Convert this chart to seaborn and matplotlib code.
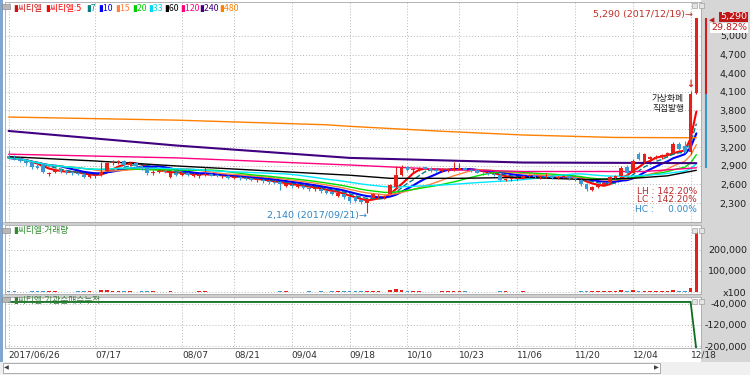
import matplotlib
matplotlib.use('Agg')
import matplotlib.pyplot as plt
import numpy as np
import pandas as pd
import seaborn as sns
from matplotlib.patches import Rectangle

# daily candles, 2017/06/26 .. 2017/12/19 (120 trading days)
opens = [3060, 3030, 3010, 2980, 2950, 2900, 2930, 2770, 2800, 2840,
         2810, 2800, 2790, 2760, 2720, 2740, 2760, 2820, 2940, 2950,
         2980, 2920, 2950, 2900, 2860, 2780, 2800, 2810, 2720, 2790,
         2760, 2780, 2740, 2730, 2760, 2770, 2750, 2730, 2740, 2710,
         2720, 2700, 2700, 2670, 2680, 2650, 2640, 2640, 2580, 2590,
         2560, 2580, 2550, 2520, 2530, 2500, 2480, 2410, 2440, 2390,
         2400, 2350, 2300, 2380, 2390, 2390, 2450, 2560, 2750, 2890,
         2840, 2850, 2880, 2870, 2840, 2820, 2830, 2830, 2840, 2860,
         2830, 2830, 2790, 2780, 2770, 2760, 2670, 2690, 2690, 2710,
         2740, 2750, 2720, 2730, 2740, 2710, 2720, 2730, 2700, 2680,
         2610, 2510, 2560, 2590, 2640, 2700, 2740, 2890, 2790, 3100,
         2970, 3020, 3030, 3040, 3060, 3110, 3260, 3220, 3120, 4080]
highs = [3150, 3070, 3040, 3000, 2960, 2930, 2940, 2810, 2850, 2860,
         2830, 2820, 2810, 2780, 2760, 2770, 2970, 2960, 2990, 2990,
         3000, 2970, 2960, 2910, 2870, 2830, 2830, 2830, 2800, 2810,
         2790, 2800, 2780, 2780, 2880, 2790, 2770, 2760, 2750, 2740,
         2730, 2720, 2710, 2700, 2690, 2670, 2660, 2650, 2620, 2610,
         2600, 2590, 2570, 2560, 2540, 2510, 2490, 2470, 2450, 2400,
         2420, 2370, 2360, 2470, 2440, 2430, 2600, 2900, 2920, 2900,
         2870, 2880, 2890, 2880, 2860, 2860, 2870, 2960, 2950, 2880,
         2850, 2840, 2810, 2800, 2790, 2770, 2700, 2710, 2720, 2760,
         2770, 2760, 2740, 2780, 2750, 2740, 2750, 2740, 2720, 2690,
         2630, 2570, 2600, 2640, 2740, 2760, 2900, 2920, 3010, 3120,
         3110, 3060, 3070, 3090, 3120, 3280, 3290, 3300, 4110, 5290]
lows = [3010, 2990, 2960, 2920, 2850, 2850, 2780, 2740, 2780, 2790,
        2770, 2760, 2750, 2700, 2700, 2710, 2740, 2800, 2920, 2930,
        2890, 2900, 2880, 2840, 2760, 2760, 2780, 2780, 2700, 2740,
        2730, 2740, 2720, 2710, 2740, 2730, 2720, 2700, 2690, 2690,
        2680, 2670, 2650, 2640, 2630, 2600, 2600, 2510, 2560, 2550,
        2540, 2530, 2500, 2500, 2470, 2450, 2430, 2400, 2370, 2300,
        2320, 2290, 2140, 2360, 2380, 2370, 2440, 2540, 2740, 2820,
        2800, 2820, 2830, 2810, 2810, 2800, 2810, 2820, 2830, 2820,
        2800, 2780, 2760, 2750, 2740, 2660, 2650, 2660, 2670, 2690,
        2710, 2700, 2690, 2710, 2690, 2690, 2700, 2680, 2660, 2580,
        2500, 2490, 2550, 2580, 2630, 2690, 2730, 2760, 2780, 2990,
        2950, 2990, 3010, 3020, 3040, 3100, 3160, 3110, 3100, 4060]
closes = [3030, 3010, 2980, 2950, 2880, 2870, 2800, 2790, 2830, 2810,
          2800, 2780, 2770, 2720, 2750, 2760, 2800, 2940, 2970, 2980,
          2920, 2950, 2900, 2860, 2780, 2810, 2820, 2800, 2790, 2760,
          2780, 2750, 2770, 2760, 2770, 2740, 2730, 2740, 2710, 2720,
          2700, 2690, 2670, 2680, 2650, 2640, 2620, 2600, 2600, 2570,
          2580, 2550, 2530, 2540, 2490, 2470, 2450, 2460, 2390, 2330,
          2340, 2310, 2350, 2450, 2420, 2410, 2590, 2750, 2870, 2840,
          2850, 2870, 2850, 2830, 2820, 2840, 2850, 2870, 2860, 2830,
          2820, 2790, 2780, 2770, 2760, 2680, 2690, 2700, 2710, 2740,
          2750, 2720, 2730, 2740, 2710, 2720, 2730, 2700, 2690, 2600,
          2530, 2560, 2590, 2620, 2720, 2740, 2870, 2780, 2980, 3010,
          3090, 3040, 3050, 3070, 3110, 3250, 3180, 3120, 4060, 5290]
# volume in units of 100 shares
volumes = [6000, 3000, 2500, 2000, 4000, 5000, 6000, 3500, 3000, 2500,
           2000, 2500, 3000, 4000, 3000, 2500, 9000, 8000, 5000, 4000,
           3500, 3000, 2500, 3000, 5000, 3000, 2500, 2000, 3000, 2500,
           2000, 2000, 2500, 3000, 6000, 2500, 2000, 2000, 2500, 2000,
           2000, 1800, 2000, 1800, 2000, 2500, 2500, 4000, 3000, 2500,
           2000, 2500, 3000, 2500, 3000, 2500, 3000, 3500, 3000, 4000,
           3500, 4000, 6000, 5000, 3000, 2500, 8000, 12000, 9000, 5000,
           3000, 3000, 2500, 2500, 2500, 3000, 3500, 5000, 4000, 3000,
           2500, 2500, 2000, 2000, 2000, 5000, 3000, 2500, 2500, 3000,
           2500, 2000, 2000, 2500, 2000, 2000, 2500, 2000, 2500, 6000,
           7000, 4000, 3000, 3500, 5000, 4000, 9000, 7000, 11000, 6000,
           5000, 3500, 3500, 4000, 5000, 8000, 6000, 5500, 20000, 282000]

# long moving averages (day index -> price)
ma60_idx = [0, 15, 29, 45, 59, 66, 78, 89, 100, 108, 114, 119]
ma60 = [3050, 2980, 2900, 2820, 2750, 2700, 2700, 2715, 2680, 2700, 2740, 2830]
ma120_idx = [0, 29, 59, 76, 89, 110, 119]
ma120 = [3090, 3030, 2915, 2840, 2810, 2810, 2870]
ma240_idx = [0, 29, 59, 89, 105, 119]
ma240 = [3465, 3230, 3030, 2955, 2950, 2945]
ma480_idx = [0, 29, 55, 59, 75, 89, 105, 119]
ma480 = [3690, 3640, 3565, 3540, 3460, 3400, 3360, 3355]

# institutional net buying, cumulative
inst_idx = [0, 118, 119]
inst_val = [-34000, -34000, -215000]

tick_pos = [0, 15, 30, 39, 49, 59, 69, 78, 88, 98, 108, 118]
tick_labels = ['2017/06/26', '07/17', '08/07', '08/21', '09/04', '09/18',
               '10/10', '10/23', '11/06', '11/20', '12/04', '12/18']
price_ticks = [2300, 2600, 2900, 3200, 3500, 3800, 4100, 4400, 4700, 5000]

sns.set_style('white')
plt.rcParams['font.family'] = ['Noto Sans CJK KR', 'DejaVu Sans']
NUM_FONT = ['Liberation Sans Narrow', 'DejaVu Sans']
KR_FONT = ['Noto Sans CJK KR', 'DejaVu Sans']

W, H = 750, 375
fig = plt.figure(figsize=(7.5, 3.75), dpi=100)
fig.patch.set_facecolor('white')


def add_ax(x0, y0, x1, y1):
    return fig.add_axes([x0 / W, 1 - y1 / H, (x1 - x0) / W, (y1 - y0) / H])


def px_text(x, y, s, **kw):
    return fig.text(x / W, 1 - y / H, s, **kw)


def px_rect(x0, y0, x1, y1, **kw):
    r = Rectangle((x0 / W, 1 - y1 / H), (x1 - x0) / W, (y1 - y0) / H,
                  transform=fig.transFigure, **kw)
    fig.add_artist(r)
    return r


# grey frame parts
px_rect(701, 0, 750, 362, facecolor='#d6d6d6', edgecolor='none', zorder=-1)
px_rect(0, 222, 701, 225, facecolor='#cfcfcf', edgecolor='none', zorder=-1)
px_rect(0, 294, 701, 297, facecolor='#cfcfcf', edgecolor='none', zorder=-1)
px_rect(0, 362, 750, 375, facecolor='#f0f0f0', edgecolor='none', zorder=-1)
px_rect(3, 363, 660, 373, facecolor='white', edgecolor='#a0a0a0', lw=0.6, zorder=-1)
px_rect(0, 0, 3, 362, facecolor='#7fa7d0', edgecolor='none', zorder=-1)

main = add_ax(5, 2, 701, 222)
vol = add_ax(5, 225, 701, 294)
inst = add_ax(5, 297, 701, 348)

xlo, xhi = -0.62, 119.8
grid_kw = dict(color='#b8b8b8', linestyle=(0, (1, 2)), linewidth=0.7)

idx = np.arange(len(closes))
o = np.array(opens)
c = np.array(closes)
up = c >= o
UP, DOWN = '#e8201a', '#3a9ad6'
colors = np.where(up, UP, DOWN)

# moving averages
df = pd.DataFrame({'idx': idx, 'close': closes})
short_ma = [(5, '#ff0000', 1.5, '-'), (7, '#008080', 1.0, '--'),
            (10, '#0000ff', 1.5, '-'), (15, '#ff8040', 1.0, '-'),
            (20, '#00e000', 1.0, '-'), (33, '#00e8ff', 1.0, '-')]
for w, col, lw, ls in short_ma:
    df[f'ma{w}'] = df['close'].rolling(w, min_periods=1).mean()
    sns.lineplot(data=df, x='idx', y=f'ma{w}', ax=main, color=col,
                 linewidth=lw, linestyle=ls, zorder=2)
sns.lineplot(x=ma60_idx, y=ma60, ax=main, color='black', linewidth=1.0, zorder=2)
sns.lineplot(x=ma120_idx, y=ma120, ax=main, color='#ff0080', linewidth=1.0, zorder=2)
sns.lineplot(x=ma240_idx, y=ma240, ax=main, color='#400080', linewidth=1.5, zorder=2)
sns.lineplot(x=ma480_idx, y=ma480, ax=main, color='#ff8000', linewidth=1.0, zorder=2)

# candles
main.vlines(idx, lows, highs, colors=colors, linewidth=0.8, zorder=3)
body = np.maximum(np.abs(c - o), 12)
main.bar(idx, body, bottom=np.minimum(o, c), width=0.64, color=colors,
         linewidth=0, zorder=4)

main.set_xlim(xlo, xhi)
main.set_ylim(1994, 5549)
main.set_xticks(tick_pos)
main.set_yticks(price_ticks)
main.set_yticklabels([f'{v:,}' for v in price_ticks])
main.grid(True, **grid_kw)

# annotations on the price pane
main.text(118.5, 5340, '5,290 (2017/12/19)\u2192', color='#c0302a', fontsize=6.8,
          family=NUM_FONT, ha='right', va='center')
main.text(62.0, 2095, '2,140 (2017/09/21)\u2192', color='#2f86c4', fontsize=6.8,
          family=NUM_FONT, ha='right', va='center')
main.text(118, 4150, '\u2193', color='#e02020', fontsize=7, ha='center', va='bottom',
          family='DejaVu Sans', fontweight='bold')
main.vlines(120.7, 4060, 5290, colors='#cc2020', linewidth=1.5, clip_on=False)
main.vlines(120.7, 2870, 4060, colors='#3c96c8', linewidth=1.5, clip_on=False)
px_text(684, 99, '가상화폐', color='#202020', fontsize=6.3, ha='right', va='center',
        family=KR_FONT)
px_text(684, 108, '직접발행', color='#202020', fontsize=6.3, ha='right', va='center',
        family=KR_FONT)

for t, yy, col in [('LH : 142.20%', 191, '#b82a2a'), ('LC : 142.20%', 200, '#b82a2a'),
                   ('HC :     0.00%', 209, '#2f86c4')]:
    px_text(697, yy, t, color=col, fontsize=6.5, family=NUM_FONT, ha='right', va='center')

# legend row
legend = [(13, '씨티엘', '#d01010'), (45, '씨티엘:5', '#ff0000'), (86, '7', '#008080'),
          (98, '10', '#0000ff'), (115, '15', '#ff8040'), (132, '20', '#00d000'),
          (148, '33', '#00d8f0'), (164, '60', 'black'), (180, '120', '#ff0080'),
          (199, '240', '#400080'), (219, '480', '#ff8000')]
for x, s, col in legend:
    px_text(x, 8, '\u25ae' + s, color=col, fontsize=6.3, va='center', ha='left',
            family=KR_FONT)
px_rect(2, 4, 10, 9, facecolor='#b8b8b8', edgecolor='#808080', lw=0.4, zorder=5)

# volume pane
vol.bar(idx, volumes, width=0.64, color=colors, linewidth=0)
vol.set_xlim(xlo, xhi)
vol.set_ylim(-9300, 317000)
vol.set_xticks(tick_pos)
vol.set_yticks([0, 100000, 200000])
vol.set_yticklabels(['x100', '100,000', '200,000'])
vol.grid(True, **grid_kw)
px_text(13, 231, '\u25ae씨티엘:거래량', color='#2e8b2e', fontsize=6.3, va='center',
        family=KR_FONT)
px_rect(2, 228, 10, 233, facecolor='#b8b8b8', edgecolor='#808080', lw=0.4, zorder=5)

# institutional pane
sns.lineplot(x=inst_idx, y=inst_val, ax=inst, color='#0a6e1e', linewidth=1.3)
inst.set_xlim(xlo, xhi)
inst.set_ylim(-207400, -15300)
inst.set_xticks(tick_pos)
inst.set_xticklabels(tick_labels)
inst.set_yticks([-200000, -120000, -40000])
inst.set_yticklabels(['-200,000', '-120,000', '-40,000'])
inst.grid(True, **grid_kw)
px_text(13, 300, '\u25ae씨티엘:기관순매수누적', color='#3c7c3c', fontsize=6.3, va='center',
        family=KR_FONT)
px_rect(2, 297, 10, 302, facecolor='#b8b8b8', edgecolor='#808080', lw=0.4, zorder=5)

for ax in (main, vol, inst):
    ax.set_xlabel('')
    ax.set_ylabel('')
    ax.yaxis.tick_right()
    ax.tick_params(axis='y', length=0, pad=33, labelsize=6.8, labelcolor='#202020')
    for lbl in ax.get_yticklabels():
        lbl.set_horizontalalignment('right')
        lbl.set_family(NUM_FONT)
    for sp in ax.spines.values():
        sp.set_color('#a8a8a8')
        sp.set_linewidth(0.6)
    if ax is not inst:
        ax.tick_params(axis='x', length=0, labelbottom=False)

# small pane buttons
for yy in (3, 228, 299):
    px_rect(692, yy, 697, yy + 5, facecolor='#e4e4e4', edgecolor='#909090', lw=0.4, zorder=5)
    px_rect(699, yy, 704, yy + 5, facecolor='#e4e4e4', edgecolor='#909090', lw=0.4, zorder=5)

inst.tick_params(axis='x', length=10, width=0.6, color='#c8c8c8', direction='out',
                 pad=-8, labelsize=6.5, labelcolor='#303030')
for lbl in inst.get_xticklabels():
    lbl.set_horizontalalignment('left')
    lbl.set_family(NUM_FONT)

# price tags on the axis strip
px_text(747, 17, '5,290', color='white', fontsize=6.8, family=NUM_FONT, ha='right',
        va='center', bbox=dict(boxstyle='square,pad=0.1', facecolor='#c01818', edgecolor='none'))
px_text(747, 28, '29.82%', color='#c01818', fontsize=6.8, family=NUM_FONT, ha='right',
        va='center', bbox=dict(boxstyle='square,pad=0.1', facecolor='white', edgecolor='none'))
px_text(712, 20, '\u25c0', color='#c01818', fontsize=5, ha='center', va='center',
        family='DejaVu Sans')

# scroll bar
px_text(6, 368, '\u25c0', color='#404040', fontsize=4.5, ha='center', va='center',
        family='DejaVu Sans')
px_text(656, 368, '\u25b6', color='#404040', fontsize=4.5, ha='center', va='center',
        family='DejaVu Sans')

fig.savefig('out.png', dpi=100, facecolor=fig.get_facecolor())
